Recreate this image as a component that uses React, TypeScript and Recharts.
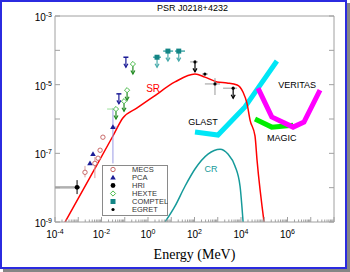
import React from 'react';
import { ComposedChart, Line, Scatter, XAxis, YAxis, ErrorBar, ReferenceDot, Legend } from 'recharts';

const FONT = '"Liberation Sans", Arial, sans-serif';
const SERIF = '"Liberation Serif", "Times New Roman", serif';
const AXIS_C = '#a0a0a0';

// ---- ticks ----
const xMajorTicks = [1e-4, 1e-3, 1e-2, 1e-1, 1, 1e1, 1e2, 1e3, 1e4, 1e5, 1e6, 1e7, 1e8];
const xLabelExps = [-4, -2, 0, 2, 4, 6];
const yMajorTicks = [1e-9, 1e-8, 1e-7, 1e-6, 1e-5, 1e-4, 1e-3];
const yLabelExps = [-9, -7, -5, -3];
const minorMultipliers = [2, 3, 4, 5, 6, 7, 8, 9];
const xAllTicks = [
  ...xMajorTicks,
  ...xMajorTicks.slice(0, -1).flatMap((d) => minorMultipliers.map((m) => m * d)),
].sort((a, b) => a - b);

// ---- model curves ----
const srCurve = [
  { e: 2.7e-4, f: 1e-9 },
  { e: 3.2e-3, f: 2.0e-8 },
  { e: 3.1e-2, f: 3.2e-7 },
  { e: 8.3e-2, f: 1.07e-6 },
  { e: 0.34, f: 2.1e-6 },
  { e: 1.66, f: 4.4e-6 },
  { e: 14.5, f: 1.2e-5 },
  { e: 105, f: 2.04e-5 },
  { e: 280, f: 1.66e-5 },
  { e: 930, f: 1.2e-5 },
  { e: 2500, f: 1.12e-5 },
  { e: 6800, f: 9.8e-6 },
  { e: 1.23e4, f: 6.0e-6 },
  { e: 1.8e4, f: 2.9e-6 },
  { e: 2.45e4, f: 9.3e-7 },
  { e: 4.0e4, f: 3.2e-7 },
  { e: 4.9e4, f: 6.3e-8 },
  { e: 9.8e4, f: 1e-9 },
];
const crCurve = [
  { e: 5.4, f: 1e-9 },
  { e: 14.5, f: 2.9e-9 },
  { e: 39, f: 1.1e-8 },
  { e: 105, f: 3.5e-8 },
  { e: 380, f: 9.5e-8 },
  { e: 1260, f: 1.32e-7 },
  { e: 2750, f: 9.5e-8 },
  { e: 5500, f: 4.3e-8 },
  { e: 9100, f: 1.1e-8 },
  { e: 1.23e4, f: 1e-9 },
];
const glastSens = [
  { e: 105, f: 4.2e-7 },
  { e: 1020, f: 3.4e-7 },
  { e: 1.48e4, f: 2.24e-6 },
  { e: 5.4e4, f: 7.9e-6 },
  { e: 3.5e5, f: 4.9e-5 },
];
const veritasSens = [
  { e: 5.4e4, f: 7.9e-6 },
  { e: 2.1e5, f: 1.15e-6 },
  { e: 1.74e6, f: 5.8e-7 },
  { e: 5.1e6, f: 8.1e-7 },
  { e: 2.5e7, f: 6.9e-6 },
];
const magicSens = [
  { e: 4.0e4, f: 1.0e-6 },
  { e: 2.1e5, f: 5.8e-7 },
  { e: 1.74e6, f: 6.6e-7 },
];

// ---- measurements ----
const mecsPoints = [
  { e: 1.15e-2, f: 2.95e-7 },
  { e: 8.7e-3, f: 1.23e-7 },
  { e: 7.1e-3, f: 7.2e-8 },
  { e: 5.2e-3, f: 5.1e-8, fLo: 1.9e-8, fHi: 7.8e-8 },
  { e: 1.95e-3, f: 2.8e-8, fLo: 2.0e-8, fHi: 4.3e-8 },
];
const pcaPoints = [
  { e: 4.3e-3, f: 9.5e-8 },
  { e: 3.2e-3, f: 5.1e-8 },
  { e: 3.1e-2, f: 5.8e-7, eLo: 2.6e-2, eHi: 4.7e-2, fLo: 5.1e-8, fHi: 2.1e-6 },
];
const pcaLimits = [
  { e: 0.112, f: 6.3e-5 },
  { e: 5.6e-2, f: 5.4e-6 },
];
const hriPoints = [
  { e: 8.9e-4, f: 1.02e-8, eLo: 1e-4, eHi: 1.2e-3, fLo: 6.5e-9, fHi: 1.66e-8 },
];
const hexteLimits = [
  { e: 0.224, f: 4.0e-5 },
  { e: 0.126, f: 6.9e-6 },
  { e: 9.3e-2, f: 3.3e-6 },
  { e: 4.2e-2, f: 1.95e-6, eLo: 1.74e-2, eHi: 4.7e-2 },
];
const comptelLimits = [
  { e: 2.45, f: 6.3e-5, eLo: 1.66, eHi: 3.6 },
  { e: 7.2, f: 9.5e-5, eLo: 4.5, eHi: 12 },
  { e: 21, f: 9.5e-5, eLo: 14.5, eHi: 39 },
];
const egretPoints = [
  { e: 280, f: 2.04e-5, eLo: 210, eHi: 380 },
  { e: 760, f: 1.05e-5, eLo: 280, eHi: 1260, fLo: 5.0e-6, fHi: 1.55e-5 },
];
const egretLimits = [
  { e: 105, f: 4.6e-5, eLo: 65, eHi: 141 },
  { e: 4600, f: 7.9e-6, eLo: 1700, eHi: 6800 },
];

// ---- annotations ----
const curveLabels = [
  { text: 'SR', e: 1.66, f: 7.9e-6, color: '#ff0000', size: 10 },
  { text: 'CR', e: 510, f: 3.5e-8, color: '#159a9a', size: 9 },
  { text: 'GLAST', e: 230, f: 8.1e-7, color: '#000000', size: 9 },
  { text: 'VERITAS', e: 2.6e6, f: 9.8e-6, color: '#000000', size: 9 },
  { text: 'MAGIC', e: 5.7e5, f: 2.75e-7, color: '#000000', size: 9 },
];

const legendItems = ['MECS', 'PCA', 'HRI', 'HEXTE', 'COMPTEL', 'EGRET'];

// ---- styles ----
const C = {
  mecs: '#c86a6a',
  mecsErr: '#dba0a0',
  pca: '#1c1c96',
  pcaErr: '#9a9ae6',
  hri: '#000000',
  hexte: '#4cbb4c',
  hexteArrow: '#228b22',
  hexteErr: '#9be09b',
  comptel: '#138585',
  comptelArrow: '#4aacac',
  egret: '#000000',
  egretErr: '#9a9a9a',
  sr: '#ff0000',
  cr: '#159a9a',
  glast: '#00e6f6',
  veritas: '#ff00ff',
  magic: '#00ee00',
};
const legendStyle: Record<string, { kind: string; color: string }> = {
  MECS: { kind: 'openCircle', color: C.mecs },
  PCA: { kind: 'triangle', color: C.pca },
  HRI: { kind: 'dot', color: C.hri },
  HEXTE: { kind: 'openDiamond', color: C.hexte },
  COMPTEL: { kind: 'square', color: C.comptel },
  EGRET: { kind: 'smallDot', color: C.egret },
};

const withErr = (pts: any[]) =>
  pts.map((p) => ({
    ...p,
    ex: p.eLo !== undefined ? [p.e - p.eLo, p.eHi - p.e] : undefined,
    ey: p.fLo !== undefined ? [p.f - p.fLo, p.fHi - p.f] : undefined,
  }));

const drawMarker = (kind: string, cx: number, cy: number, color: string) => {
  switch (kind) {
    case 'openCircle':
      return <circle cx={cx} cy={cy} r={2.2} fill="#fff" stroke={color} strokeWidth={1} />;
    case 'triangle':
      return <polygon points={`${cx},${cy - 2.8} ${cx - 2.8},${cy + 2} ${cx + 2.8},${cy + 2}`} fill={color} />;
    case 'dot':
      return <circle cx={cx} cy={cy} r={2.4} fill={color} />;
    case 'openDiamond':
      return (
        <polygon
          points={`${cx},${cy - 2.6} ${cx + 2.6},${cy} ${cx},${cy + 2.6} ${cx - 2.6},${cy}`}
          fill="#fff"
          stroke={color}
          strokeWidth={1}
        />
      );
    case 'square':
      return <rect x={cx - 2.5} y={cy - 2.5} width={5} height={5} fill={color} />;
    case 'smallDot':
      return <circle cx={cx} cy={cy} r={1.6} fill={color} />;
    case 'cap':
      return <line x1={cx - 2.5} x2={cx + 2.5} y1={cy} y2={cy} stroke={color} strokeWidth={1.5} />;
    default:
      return null;
  }
};

const ARROW_LEN = 10;
const drawArrow = (cx: number, cy: number, color: string) => (
  <g>
    <line x1={cx} x2={cx} y1={cy} y2={cy + ARROW_LEN} stroke={color} strokeWidth={1.2} />
    <polyline
      points={`${cx - 2},${cy + ARROW_LEN - 3.5} ${cx},${cy + ARROW_LEN} ${cx + 2},${cy + ARROW_LEN - 3.5}`}
      fill="none"
      stroke={color}
      strokeWidth={1.2}
    />
  </g>
);

const pointShape = (kind: string, color: string) => (p: any) => <g>{drawMarker(kind, p.cx, p.cy, color)}</g>;
const limitShape = (kind: string, color: string, arrowColor: string) => (p: any) => (
  <g>
    {drawArrow(p.cx, p.cy, arrowColor)}
    {drawMarker(kind, p.cx, p.cy, color)}
  </g>
);

const isExp = (v: number, list: number[]) => list.includes(Math.round(Math.log10(v)));
const isMajor = (v: number) => Math.abs(Math.log10(v) - Math.round(Math.log10(v))) < 1e-6;

const BottomTick = (props: any) => {
  const { x, y, payload } = props;
  const v = payload.value;
  const major = isMajor(v);
  const len = major ? 5 : 2.5;
  const exp = Math.round(Math.log10(v));
  return (
    <g>
      <line x1={x} x2={x} y1={y} y2={y - len} stroke={AXIS_C} />
      {major && isExp(v, xLabelExps) && (
        <text x={x} y={y + 16} textAnchor="middle" fontSize={10} fontFamily={FONT} fill="#000">
          10<tspan dy={-4} fontSize={7}>{exp}</tspan>
        </text>
      )}
    </g>
  );
};
const TopTick = (props: any) => {
  const { x, y, payload } = props;
  const len = isMajor(payload.value) ? 5 : 2.5;
  return <line x1={x} x2={x} y1={y} y2={y + len} stroke={AXIS_C} />;
};
const LeftTick = (props: any) => {
  const { x, y, payload } = props;
  const v = payload.value;
  const exp = Math.round(Math.log10(v));
  return (
    <g>
      <line x1={x} x2={x + 5} y1={y} y2={y} stroke={AXIS_C} />
      {isExp(v, yLabelExps) && (
        <text x={x - 3} y={y + 5} textAnchor="end" fontSize={10} fontFamily={FONT} fill="#000">
          10<tspan dy={-4} fontSize={7}>{exp}</tspan>
        </text>
      )}
    </g>
  );
};
const RightTick = (props: any) => {
  const { x, y } = props;
  return <line x1={x} x2={x - 5} y1={y} y2={y} stroke={AXIS_C} />;
};

const LegendBox = () => (
  <svg width={66} height={51} style={{ display: 'block' }}>
    <rect x={0.5} y={0.5} width={65} height={50} fill="#fff" stroke="#8a8a8a" strokeWidth={1} />
    {legendItems.map((name, i) => {
      const cy = 4.5 + i * 8;
      const s = legendStyle[name];
      return (
        <g key={name}>
          {drawMarker(s.kind, 11, cy, s.color)}
          <text x={30} y={cy + 2.7} fontSize={7.5} fontFamily={FONT} fill="#333">
            {name}
          </text>
        </g>
      );
    })}
  </svg>
);

export default function App() {
  return (
    <div style={{ position: 'absolute', left: 0, top: 0, width: 350, height: 272, background: '#fff' }}>
      <div
        style={{
          position: 'absolute',
          left: 0,
          top: 0,
          width: 347,
          height: 269,
          boxSizing: 'border-box',
          border: '2px solid #2b2be0',
          boxShadow: '3px 3px 0 #858585',
          background: '#fff',
        }}
      />
      <div style={{ position: 'absolute', left: 0, top: 0 }}>
        <ComposedChart width={350} height={272} margin={{ top: 0, right: 0, bottom: 0, left: 0 }}>
          <XAxis
            dataKey="e"
            type="number"
            scale="log"
            domain={[1e-4, 1e8]}
            allowDataOverflow
            ticks={xAllTicks}
            interval={0}
            tick={(p: any) => <BottomTick {...p} />}
            tickLine={false}
            tickSize={0}
            tickMargin={0}
            height={50}
            stroke={AXIS_C}
            label={{ value: 'Energy (MeV)', position: 'insideBottom', offset: 13, fontSize: 14, fontFamily: SERIF, fill: '#000' }}
          />
          <XAxis
            xAxisId="top"
            orientation="top"
            type="number"
            scale="log"
            domain={[1e-4, 1e8]}
            allowDataOverflow
            ticks={xAllTicks}
            interval={0}
            tick={(p: any) => <TopTick {...p} />}
            tickLine={false}
            tickSize={0}
            tickMargin={0}
            height={16}
            stroke={AXIS_C}
            label={{ value: 'PSR J0218+4232', position: 'center', fontSize: 9, fontFamily: FONT, fill: '#000', dx: -2 }}
          />
          <YAxis
            dataKey="f"
            type="number"
            scale="log"
            domain={[1e-9, 1e-3]}
            allowDataOverflow
            ticks={yMajorTicks}
            interval={0}
            tick={(p: any) => <LeftTick {...p} />}
            tickLine={false}
            tickSize={0}
            tickMargin={0}
            width={55}
            stroke={AXIS_C}
          />
          <YAxis
            yAxisId="right"
            orientation="right"
            type="number"
            scale="log"
            domain={[1e-9, 1e-3]}
            allowDataOverflow
            ticks={yMajorTicks}
            interval={0}
            tick={(p: any) => <RightTick {...p} />}
            tickLine={false}
            tickSize={0}
            tickMargin={0}
            width={16}
            stroke={AXIS_C}
          />

          <Line data={glastSens} dataKey="f" type="linear" stroke={C.glast} strokeWidth={5} dot={false} isAnimationActive={false} />
          <Line data={magicSens} dataKey="f" type="linear" stroke={C.magic} strokeWidth={5} dot={false} isAnimationActive={false} />
          <Line data={veritasSens} dataKey="f" type="linear" stroke={C.veritas} strokeWidth={5} dot={false} isAnimationActive={false} />
          <Line data={srCurve} dataKey="f" type="monotone" stroke={C.sr} strokeWidth={1.5} dot={false} isAnimationActive={false} />
          <Line data={crCurve} dataKey="f" type="monotone" stroke={C.cr} strokeWidth={1.5} dot={false} isAnimationActive={false} />

          <Scatter data={withErr(hriPoints)} dataKey="f" shape={pointShape('dot', C.hri)} isAnimationActive={false}>
            <ErrorBar dataKey="ex" direction="x" width={0} stroke="#b0b0b0" strokeWidth={2.5} />
            <ErrorBar dataKey="ey" direction="y" width={0} stroke="#000" strokeWidth={1} />
          </Scatter>
          <Scatter data={withErr(mecsPoints)} dataKey="f" shape={pointShape('openCircle', C.mecs)} isAnimationActive={false}>
            <ErrorBar dataKey="ey" direction="y" width={0} stroke={C.mecsErr} strokeWidth={1} />
          </Scatter>
          <Scatter data={withErr(pcaPoints)} dataKey="f" shape={pointShape('triangle', C.pca)} isAnimationActive={false}>
            <ErrorBar dataKey="ex" direction="x" width={0} stroke={C.pcaErr} strokeWidth={1} />
            <ErrorBar dataKey="ey" direction="y" width={0} stroke={C.pcaErr} strokeWidth={1} />
          </Scatter>
          <Scatter data={pcaLimits} dataKey="f" shape={limitShape('cap', C.pca, C.pca)} isAnimationActive={false} />
          <Scatter data={withErr(hexteLimits)} dataKey="f" shape={limitShape('openDiamond', C.hexte, C.hexteArrow)} isAnimationActive={false}>
            <ErrorBar dataKey="ex" direction="x" width={0} stroke={C.hexteErr} strokeWidth={1} />
          </Scatter>
          <Scatter data={withErr(comptelLimits)} dataKey="f" shape={limitShape('square', C.comptel, C.comptelArrow)} isAnimationActive={false}>
            <ErrorBar dataKey="ex" direction="x" width={0} stroke={C.comptelArrow} strokeWidth={1.5} />
          </Scatter>
          <Scatter data={withErr(egretPoints)} dataKey="f" shape={pointShape('smallDot', C.egret)} isAnimationActive={false}>
            <ErrorBar dataKey="ex" direction="x" width={0} stroke={C.egretErr} strokeWidth={1} />
            <ErrorBar dataKey="ey" direction="y" width={0} stroke={C.egretErr} strokeWidth={1} />
          </Scatter>
          <Scatter data={withErr(egretLimits)} dataKey="f" shape={limitShape('smallDot', C.egret, C.egret)} isAnimationActive={false}>
            <ErrorBar dataKey="ex" direction="x" width={0} stroke={C.egretErr} strokeWidth={1} />
          </Scatter>

          {curveLabels.map((l) => (
            <ReferenceDot
              key={l.text}
              x={l.e}
              y={l.f}
              r={0}
              fill="none"
              stroke="none"
              label={{ value: l.text, position: 'center', fill: l.color, fontSize: l.size, fontFamily: FONT }}
            />
          ))}

          <Legend
            layout="vertical"
            align="center"
            verticalAlign="middle"
            content={() => <LegendBox />}
            wrapperStyle={{ left: 102, top: 165, width: 66, height: 51 }}
          />
        </ComposedChart>
      </div>
    </div>
  );
}
